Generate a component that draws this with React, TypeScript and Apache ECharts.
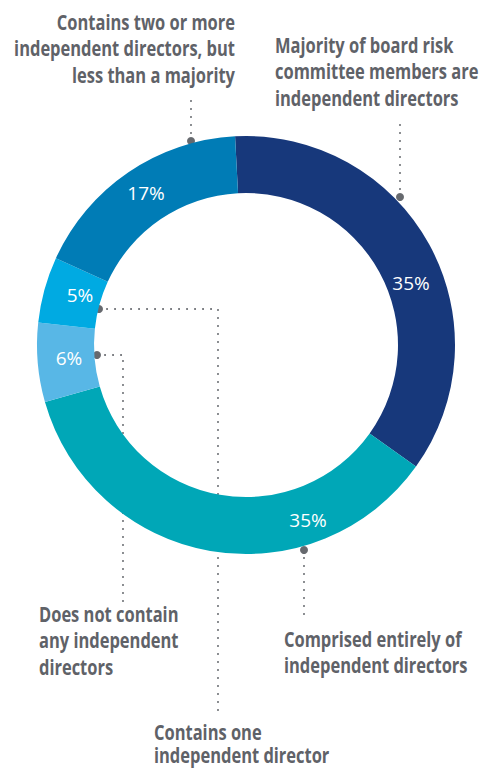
import React, { useEffect, useRef } from "react";
import * as echarts from "echarts";

const categories = [
  "Majority of board risk committee members are independent directors",
  "Comprised entirely of independent directors",
  "Does not contain any independent directors",
  "Contains one independent director",
  "Contains two or more independent directors, but less than a majority",
];
const values = [35, 35, 6, 5, 17];
const colors = ["#17387b", "#00a7b7", "#58b7e6", "#00aae2", "#007cb6"];
// percentage label anchor positions (centre of text)
const pctLabelPos: [number, number][] = [
  [411, 283],
  [308, 520],
  [69, 358],
  [80, 295],
  [146, 193],
];

const GREY = "#5f6268";
const DOT = "#66696e";
const annFont = {
  fontFamily: "'Open Sans', sans-serif",
  fontWeight: "bold" as const,
  fontSize: 21,
};
const SCALE_X = 0.785;

type Ann = { lines: string[]; x: number; baselines: number[]; align: "left" | "right" };
const annotations: Ann[] = [
  { lines: ["Contains two or more", "independent directors, but", "less than a majority"], x: 235, baselines: [30, 56.5, 83], align: "right" },
  { lines: ["Majority of board risk", "committee members are", "independent directors"], x: 275, baselines: [53, 79.5, 106], align: "left" },
  { lines: ["Does not contain", "any independent", "directors"], x: 39, baselines: [622, 648.5, 675], align: "left" },
  { lines: ["Contains one", "independent director"], x: 154, baselines: [740, 763], align: "left" },
  { lines: ["Comprised entirely of", "independent directors"], x: 284, baselines: [647, 673], align: "left" },
];

const leaders: { dot: [number, number]; pts: [number, number][] }[] = [
  { dot: [191, 141], pts: [[191, 141], [191, 100]] },
  { dot: [400, 197], pts: [[400, 197], [400, 117]] },
  { dot: [97, 355], pts: [[97, 355], [123, 355], [123, 603]] },
  { dot: [99, 309], pts: [[99, 309], [218, 309], [218, 713]] },
  { dot: [304, 550], pts: [[304, 550], [304, 617]] },
];

export default function App() {
  const ref = useRef<HTMLDivElement>(null);
  useEffect(() => {
    if (!ref.current) return;
    const chart = echarts.init(ref.current, undefined, { renderer: "svg" });
    const graphics: any[] = [];
    annotations.forEach((a) => {
      a.lines.forEach((t, i) => {
        graphics.push({
          type: "text",
          x: a.x,
          y: a.baselines[i] - 8,
          scaleX: SCALE_X,
          style: {
            text: t,
            fill: GREY,
            align: a.align,
            verticalAlign: "middle",
            ...annFont,
          },
        });
      });
    });
    leaders.forEach((l) => {
      graphics.push({
        type: "polyline",
        shape: { points: l.pts },
        style: { stroke: DOT, lineWidth: 2, lineDash: [0.1, 7.9], lineCap: "round", fill: "none" },
      });
      graphics.push({
        type: "circle",
        shape: { cx: l.dot[0], cy: l.dot[1], r: 4 },
        style: { fill: DOT },
      });
    });
    values.forEach((v, i) => {
      graphics.push({
        type: "text",
        x: pctLabelPos[i][0],
        y: pctLabelPos[i][1],
        z: 10,
        style: {
          text: `${v}%`,
          fill: "#ffffff",
          align: "center",
          verticalAlign: "middle",
          fontFamily: "'Open Sans', sans-serif",
          fontSize: 19,
        },
      });
    });
    chart.setOption({
      animation: false,
      backgroundColor: "#ffffff",
      series: [
        {
          type: "pie",
          center: [246, 345],
          radius: [152, 209],
          startAngle: 93,
          clockwise: true,
          label: { show: false },
          labelLine: { show: false },
          itemStyle: { borderWidth: 0 },
          emphasis: { disabled: true },
          data: categories.map((c, i) => ({ name: c, value: values[i], itemStyle: { color: colors[i] } })),
        },
      ],
      graphic: graphics,
    });
    return () => chart.dispose();
  }, []);
  return <div ref={ref} style={{ position: "fixed", left: 0, top: 0, width: 483, height: 770 }} />;
}
